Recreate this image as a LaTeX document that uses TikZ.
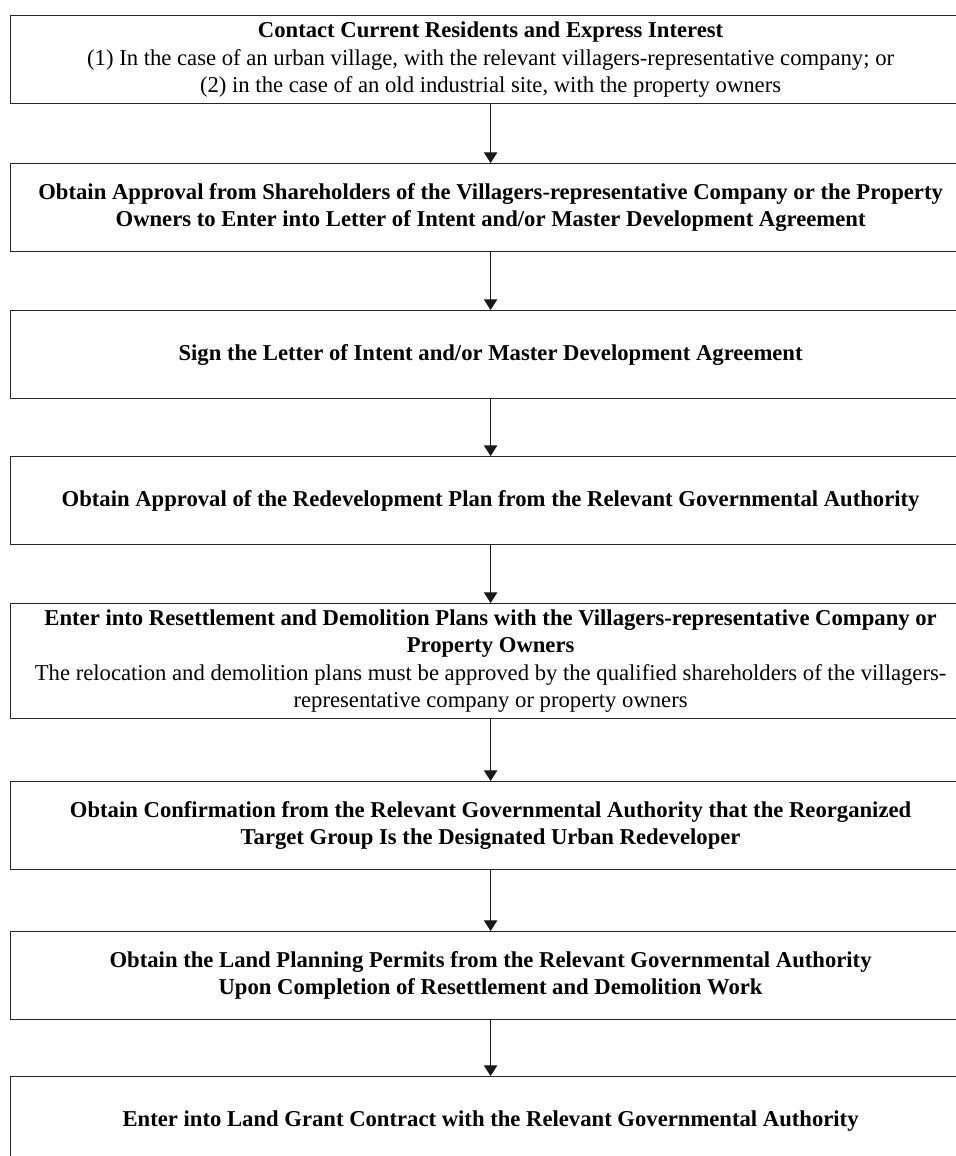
\documentclass[tikz,border=0pt]{standalone}
\usepackage{fontspec}
\setmainfont{Liberation Serif}
\usetikzlibrary{arrows.meta}
\begin{document}
\begin{tikzpicture}[x=0.75pt,y=-0.75pt,
  stepbox/.style={draw=black!85,line width=0.9pt,anchor=north west,
    minimum width=720pt,minimum height=66pt,inner sep=0pt,align=center,
    font=\fontsize{17}{20.3}\selectfont},
  tallbox/.style={stepbox,minimum height=86.25pt},
  flow/.style={draw=black!90,line width=0.9pt,-{Triangle[width=10pt,length=8pt]}}]
\useasboundingbox (0,0) rectangle (956,1156);
\clip (0,0) rectangle (956,1156);
\node[stepbox] (b1) at (10,15) {\textbf{Contact Current Residents and Express Interest}\\(1) In the case of an urban village, with the relevant villagers-representative company; or\\(2) in the case of an old industrial site, with the property owners};
\node[stepbox] (b2) at (10,163) {\textbf{Obtain Approval from Shareholders of the Villagers-representative Company or the Property}\\\textbf{Owners to Enter into Letter of Intent and/or Master Development Agreement}};
\node[stepbox] (b3) at (10,310) {\textbf{Sign the Letter of Intent and/or Master Development Agreement}};
\node[stepbox] (b4) at (10,456) {\textbf{Obtain Approval of the Redevelopment Plan from the Relevant Governmental Authority}};
\node[tallbox] (b5) at (10,603) {\textbf{Enter into Resettlement and Demolition Plans with the Villagers-representative Company or}\\\textbf{Property Owners}\\The relocation and demolition plans must be approved by the qualified shareholders of the villagers-\\representative company or property owners};
\node[stepbox] (b6) at (10,781) {\textbf{Obtain Confirmation from the Relevant Governmental Authority that the Reorganized}\\\textbf{Target Group Is the Designated Urban Redeveloper}};
\node[stepbox] (b7) at (10,931) {\textbf{Obtain the Land Planning Permits from the Relevant Governmental Authority}\\\textbf{Upon Completion of Resettlement and Demolition Work}};
\node[stepbox] (b8) at (10,1076) {\textbf{Enter into Land Grant Contract with the Relevant Governmental Authority}};
\draw[flow] (b1.south) -- (b2.north);
\draw[flow] (b2.south) -- (b3.north);
\draw[flow] (b3.south) -- (b4.north);
\draw[flow] (b4.south) -- (b5.north);
\draw[flow] (b5.south) -- (b6.north);
\draw[flow] (b6.south) -- (b7.north);
\draw[flow] (b7.south) -- (b8.north);
\end{tikzpicture}
\end{document}
